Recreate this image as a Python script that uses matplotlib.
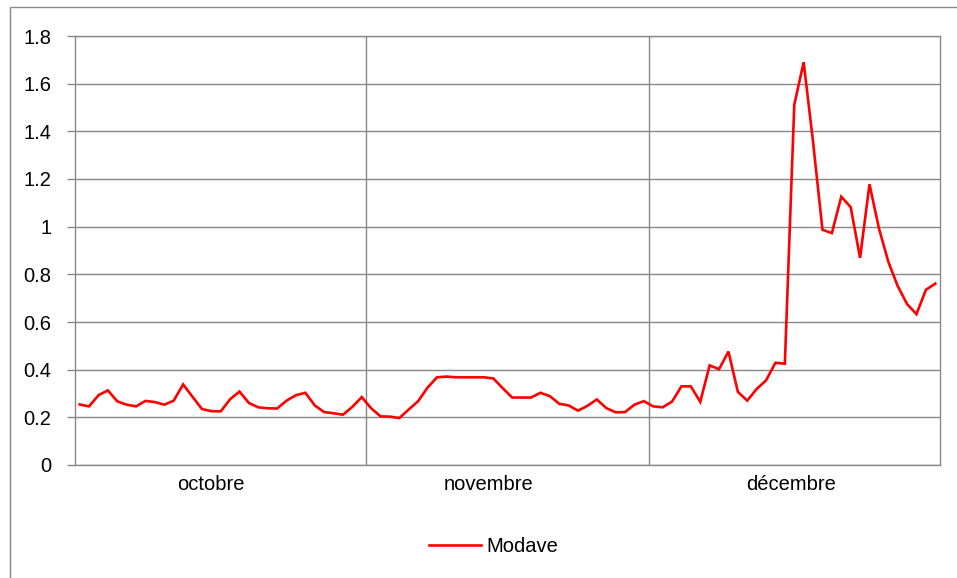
import matplotlib
matplotlib.use("Agg")
import matplotlib.pyplot as plt
from matplotlib.patches import Rectangle

plt.rcParams['font.family'] = ['Liberation Sans', 'DejaVu Sans']

series_name = "Modave"
month_labels = ["octobre", "novembre", "décembre"]
oct_values = [0.254, 0.246, 0.293, 0.313, 0.267, 0.253, 0.246, 0.269, 0.264, 0.253,
              0.270, 0.338, 0.286, 0.235, 0.226, 0.225, 0.276, 0.308, 0.260, 0.242,
              0.238, 0.237, 0.270, 0.293, 0.303, 0.250, 0.222, 0.217, 0.211, 0.244,
              0.285]
nov_values = [0.238, 0.204, 0.203, 0.197, 0.233, 0.268, 0.325, 0.368, 0.371, 0.368,
              0.368, 0.368, 0.368, 0.363, 0.322, 0.283, 0.283, 0.283, 0.303, 0.289,
              0.257, 0.250, 0.228, 0.248, 0.275, 0.239, 0.221, 0.222, 0.253, 0.268]
dec_values = [0.246, 0.242, 0.266, 0.330, 0.330, 0.265, 0.418, 0.402, 0.476, 0.307,
              0.270, 0.319, 0.355, 0.429, 0.425, 1.511, 1.690, 1.355, 0.987, 0.973,
              1.126, 1.082, 0.869, 1.178, 0.994, 0.853, 0.751, 0.675, 0.633, 0.735,
              0.761]
y_ticks = [0, 0.2, 0.4, 0.6, 0.8, 1.0, 1.2, 1.4, 1.6, 1.8]

values = oct_values + nov_values + dec_values
month_lengths = [len(oct_values), len(nov_values), len(dec_values)]
x = list(range(len(values)))

GRAY = '#888888'
W, H = 957, 578
fig = plt.figure(figsize=(W / 100, H / 100), dpi=100)
ax = fig.add_axes([75 / W, 1 - 465 / H, (940 - 75) / W, (465 - 36) / H])

# outer chart border
fig.patches.append(Rectangle((9.5 / W, -0.1), 1.2, 1 - 7 / H + 0.1,
                             transform=fig.transFigure, fill=False,
                             edgecolor=GRAY, linewidth=1.0))

ax.plot(x, values, color='#ff0000', linewidth=1.9, label=series_name,
        solid_joinstyle='miter', zorder=3)

ax.set_xlim(-0.5, len(values) - 0.5)
ax.set_ylim(0, 1.8)
ax.set_yticks(y_ticks)
ax.set_yticklabels([f'{v:g}' for v in y_ticks])
ax.yaxis.grid(True, color=GRAY, linewidth=1.0)

# month boundaries
b = -0.5
for n in month_lengths[:-1]:
    b += n
    ax.axvline(b, color=GRAY, linewidth=1.0, zorder=1)

ax.set_xticks([14.0, 43.5, 75.7])
ax.set_xticklabels(month_labels)
ax.tick_params(axis='x', length=0, pad=7, labelsize=14.5)
ax.tick_params(axis='y', length=6, width=1.0, color=GRAY, pad=11, labelsize=14.5)

for s in ax.spines.values():
    s.set_color(GRAY)
    s.set_linewidth(1.0)

fig.legend(loc='center', bbox_to_anchor=(493.5 / W, 1 - 546.5 / H),
           frameon=False, fontsize=14.5, handlelength=2.6, handletextpad=0.25)

fig.savefig('out.png', dpi=100)
